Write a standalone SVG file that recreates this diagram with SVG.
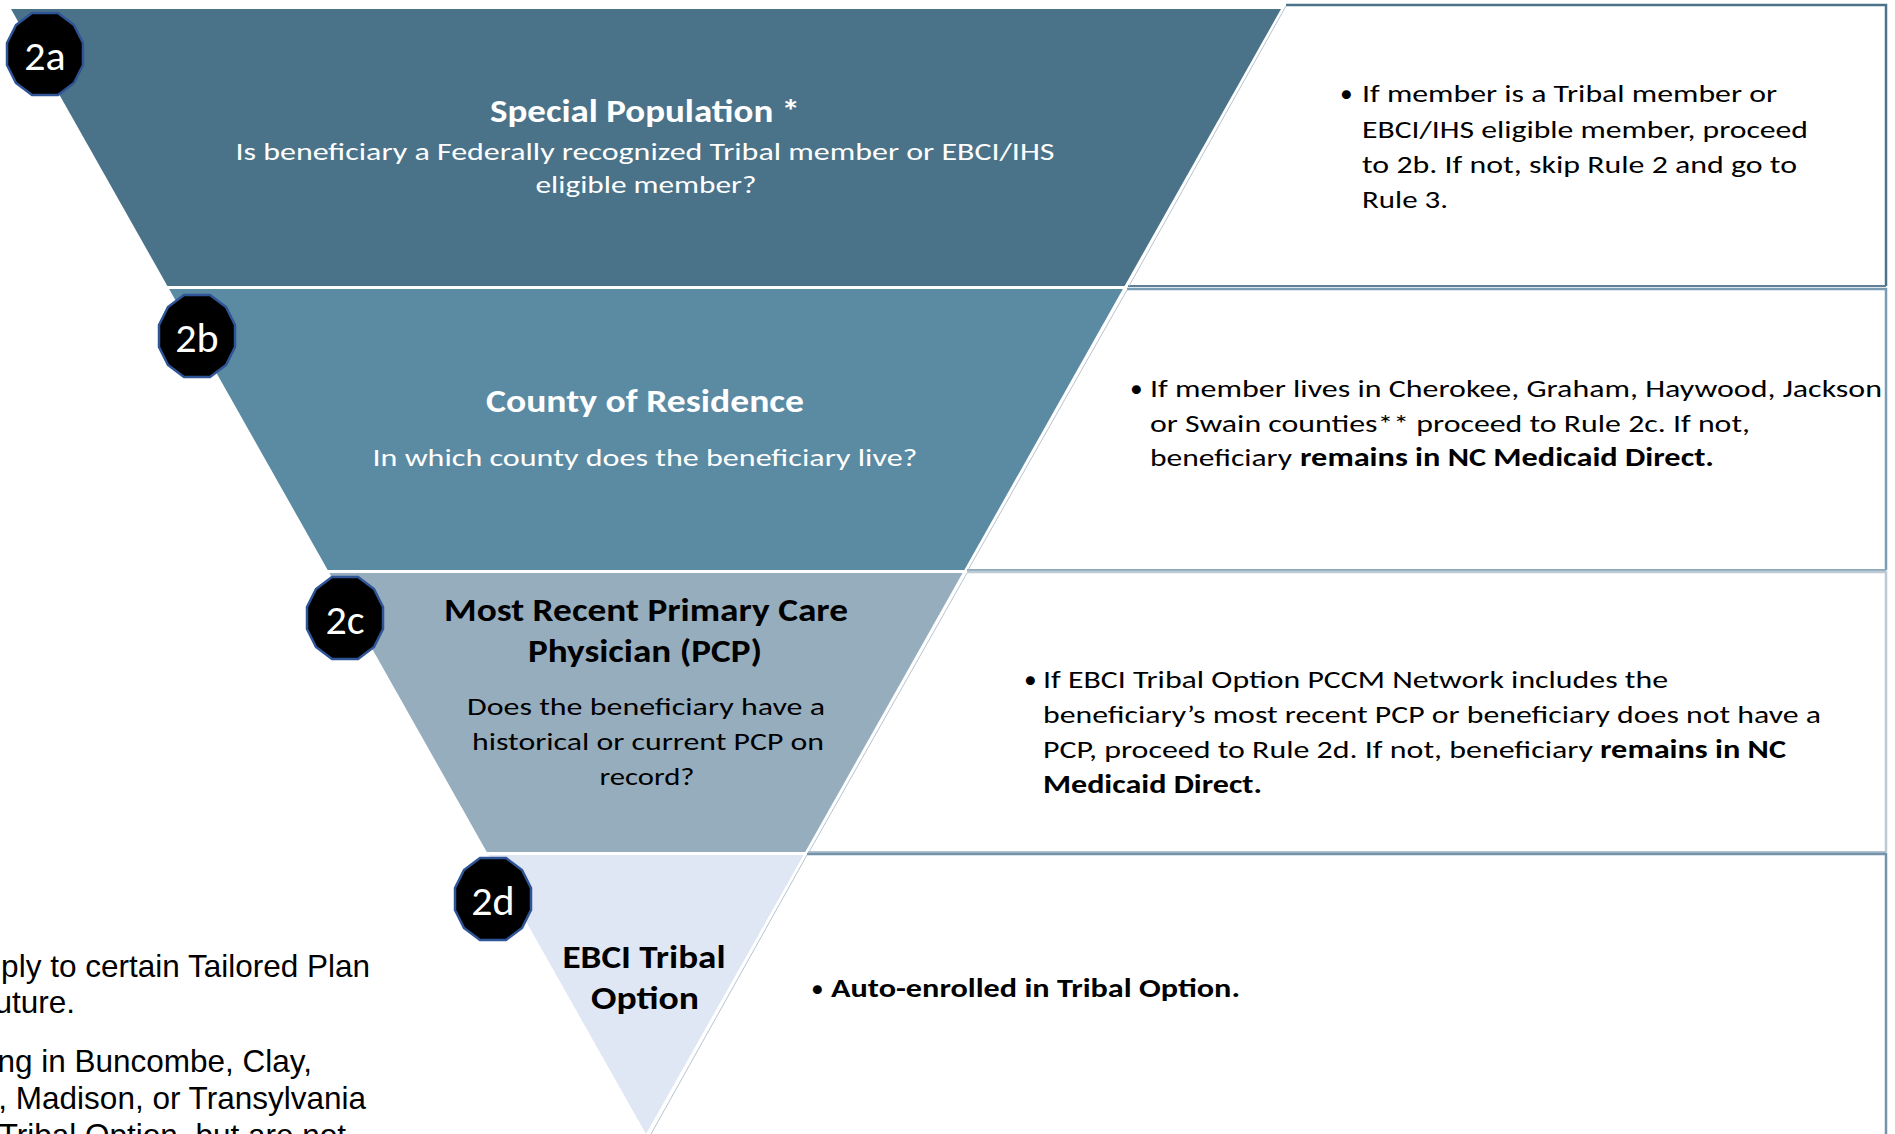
<svg xmlns="http://www.w3.org/2000/svg" width="1895" height="1134" viewBox="0 0 1895 1134">
<style>
.ff{font-family:Carlito,Lato,"Open Sans",sans-serif}
.w{fill:#ffffff}
.k{fill:#000000}
.title{font-weight:bold;font-size:32px}
.body{font-size:25.5px}
.bold{font-weight:bold}
.badge{fill:#000000;stroke:#2F5597;stroke-width:2.5}
.bnum{font-family:Carlito,Lato,sans-serif;font-size:42px;fill:#ffffff;text-anchor:middle}
.note{font-family:"Liberation Sans",Arial,sans-serif;font-size:31.5px;fill:#000000;text-anchor:end}
.thin{stroke:#B7C4CE;stroke-width:1;fill:none}
</style>
<defs>
<polygon id="oct" points="13,-41 29,-29 38,-11 38,11 29,29 13,41 -13,41 -29,29 -38,11 -38,-11 -29,-29 -13,-41"/>
</defs>
<rect width="1895" height="1134" fill="#ffffff"/>

<!-- right-hand info boxes -->
<g id="box-2a">
<polyline points="1286,5 1886,5 1886,286" fill="none" stroke="#4B7389" stroke-width="2.5"/>
<line x1="1128" y1="286" x2="1886" y2="286" stroke="#5E7F95" stroke-width="2"/>
<line x1="1286" y1="6" x2="1129" y2="286" class="thin"/>
<text class="ff body k" x="1340" y="102">•</text>
<text class="ff body k" x="1362" y="102" textLength="415" lengthAdjust="spacingAndGlyphs">If member  is a Tribal member  or</text>
<text class="ff body k" x="1362" y="138" textLength="446" lengthAdjust="spacingAndGlyphs">EBCI/IHS eligible member,  proceed</text>
<text class="ff body k" x="1362" y="173" textLength="435" lengthAdjust="spacingAndGlyphs">to 2b. If not,  skip Rule 2 and go to</text>
<text class="ff body k" x="1362" y="208" textLength="86" lengthAdjust="spacingAndGlyphs">Rule 3.</text>
</g>

<g id="box-2b">
<polyline points="1127,289 1886,289 1886,570" fill="none" stroke="#7A9DB4" stroke-width="2.5"/>
<line x1="967" y1="570" x2="1886" y2="570" stroke="#8FAABD" stroke-width="2"/>
<line x1="1127" y1="290" x2="968" y2="570" class="thin"/>
<text class="ff body k" x="1130" y="397">•</text>
<text class="ff body k" x="1150" y="397" textLength="732" lengthAdjust="spacingAndGlyphs">If member  lives in Cherokee,  Graham, Haywood, Jackson</text>
<text class="ff body k" x="1150" y="432" textLength="600" lengthAdjust="spacingAndGlyphs">or Swain counties** proceed  to Rule 2c. If not,</text>
<text class="ff body k" x="1150" y="466" textLength="142" lengthAdjust="spacingAndGlyphs">beneficiary</text>
<text class="ff body k bold" x="1300" y="466" textLength="414" lengthAdjust="spacingAndGlyphs">remains in NC Medicaid Direct.</text>
</g>

<g id="box-2c">
<polyline points="967,572 1886,572 1886,852" fill="none" stroke="#BCCAD4" stroke-width="2.5"/>
<line x1="808" y1="852" x2="1886" y2="852" stroke="#B0C0CC" stroke-width="2"/>
<line x1="967" y1="573" x2="809" y2="852" class="thin"/>
<text class="ff body k" x="1024" y="688">•</text>
<text class="ff body k" x="1043" y="688" textLength="625" lengthAdjust="spacingAndGlyphs">If EBCI Tribal Option PCCM Network includes the</text>
<text class="ff body k" x="1043" y="723" textLength="778" lengthAdjust="spacingAndGlyphs">beneficiary’s most recent PCP or beneficiary does not have a</text>
<text class="ff body k" x="1043" y="758" textLength="550" lengthAdjust="spacingAndGlyphs">PCP, proceed to Rule 2d. If not,  beneficiary</text>
<text class="ff body k bold" x="1600" y="758" textLength="186" lengthAdjust="spacingAndGlyphs">remains in NC</text>
<text class="ff body k bold" x="1043" y="793" textLength="219" lengthAdjust="spacingAndGlyphs">Medicaid Direct.</text>
</g>

<g id="box-2d">
<polyline points="807,854 1886,854 1886,1134" fill="none" stroke="#7393AA" stroke-width="2.5"/>
<line x1="807" y1="855" x2="651" y2="1134" class="thin"/>
<text class="ff body k" x="811" y="997">•</text>
<text class="ff body k bold" x="831" y="997" textLength="409" lengthAdjust="spacingAndGlyphs">Auto-enrolled in Tribal Option.</text>
</g>

<!-- funnel bands -->
<g id="node-2a">
<polygon points="11,9 1281,9 1124.6,286 167.4,286" fill="#4A7389"/>
<text class="ff title w" x="645" y="122" text-anchor="middle" textLength="310" lengthAdjust="spacingAndGlyphs">Special Population *</text>
<text class="ff body w" x="645" y="160" text-anchor="middle" textLength="819" lengthAdjust="spacingAndGlyphs">Is beneficiary a Federally recognized Tribal member  or EBCI/IHS</text>
<text class="ff body w" x="646" y="193" text-anchor="middle" textLength="221" lengthAdjust="spacingAndGlyphs">eligible member?</text>
<use href="#oct" x="45" y="54" class="badge"/>
<text class="bnum" x="45" y="70">2a</text>
</g>

<g id="node-2b">
<polygon points="169.1,289 1122.9,289 964.3,570 327.7,570" fill="#5B8AA3"/>
<text class="ff title w" x="645" y="412" text-anchor="middle" textLength="318" lengthAdjust="spacingAndGlyphs">County of Residence</text>
<text class="ff body w" x="645" y="466" text-anchor="middle" textLength="545" lengthAdjust="spacingAndGlyphs">In which county does the beneficiary live?</text>
<use href="#oct" x="197" y="336" class="badge"/>
<text class="bnum" x="197" y="352">2b</text>
</g>

<g id="node-2c">
<polygon points="329.4,573 962.6,573 805.2,852 486.8,852" fill="#96ADBE"/>
<text class="ff title k" x="646" y="621" text-anchor="middle" textLength="404" lengthAdjust="spacingAndGlyphs">Most Recent Primary Care</text>
<text class="ff title k" x="645" y="662" text-anchor="middle" textLength="234" lengthAdjust="spacingAndGlyphs">Physician (PCP)</text>
<text class="ff body k" x="646" y="715" text-anchor="middle" textLength="358" lengthAdjust="spacingAndGlyphs">Does the beneficiary have a</text>
<text class="ff body k" x="648" y="750" text-anchor="middle" textLength="352" lengthAdjust="spacingAndGlyphs">historical or current  PCP on</text>
<text class="ff body k" x="647" y="785" text-anchor="middle" textLength="95" lengthAdjust="spacingAndGlyphs">record?</text>
<use href="#oct" x="345" y="618" class="badge"/>
<text class="bnum" x="345" y="634">2c</text>
</g>

<g id="node-2d">
<polygon points="488.5,855 803.5,855 646,1134" fill="#DFE6F4"/>
<text class="ff title k" x="644" y="968" text-anchor="middle" textLength="163" lengthAdjust="spacingAndGlyphs">EBCI Tribal</text>
<text class="ff title k" x="645" y="1009" text-anchor="middle" textLength="108" lengthAdjust="spacingAndGlyphs">Option</text>
<use href="#oct" x="493" y="899" class="badge"/>
<text class="bnum" x="493" y="915">2d</text>
</g>

<!-- cut-off footnote text at lower left -->
<g id="footnotes">
<text class="note" x="370" y="977">ply to certain Tailored Plan</text>
<text class="note" x="75" y="1013">uture.</text>
<text class="note" x="312" y="1072">ng in Buncombe, Clay,</text>
<text class="note" x="366" y="1109">n, Madison, or Transylvania</text>
<text class="note" x="346" y="1146">Tribal Option, but are not</text>
</g>

<g id="connectors"/>
</svg>
